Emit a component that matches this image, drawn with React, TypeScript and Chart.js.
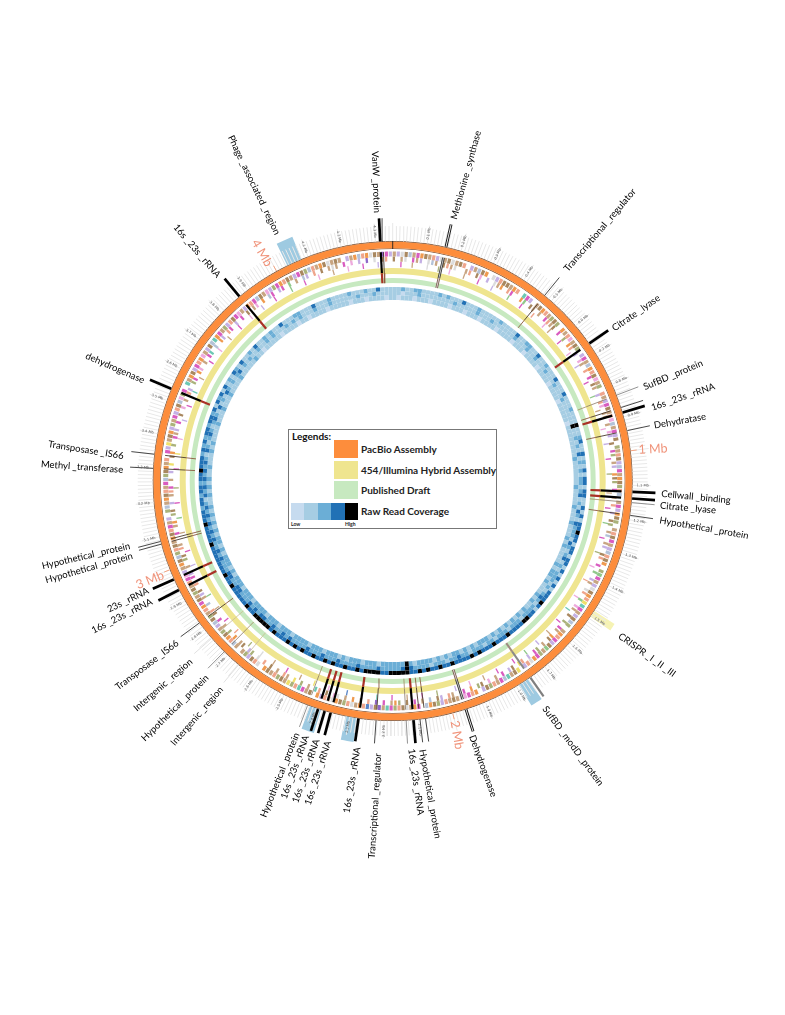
import React, { useEffect, useRef } from "react";
import { Chart, registerables } from "chart.js";

Chart.register(...registerables);

// ---------- data ----------
const genomeLengthMb = 4.35;

// genes per degree of the ring (letter = functional class, "." = no gene)
const geneOuter = [
  "tlwbgtmrbtslwtb", "wtbs.ltgbr.wlsb", "btrs.cml.tbrsto", "bo.rtsptbo.lmtg", "rsbpto.stlmbtsp", "gtmlb.otsblgmtr",
  "bosg.tmlrbo.tsb", "mtlgsbr.oemtlwb", "rsycmtlbgo.trsm", "lbetomrwsl.ybtc", "gmtsobl.rsmpwtb", "tslobrg.mrtwbso",
  "mctubldsrtwsobr", "wtslr.btmcsoytb", "ostbr.wsblot.tg", "srbotlgbotsrmbt", "obtsmpltrbgosbt", "rbsmtl.ogtrbstm",
  "gobrts.mlytbrlo", "tmlsbgpom.ctrbl", "msrptlbgcrmtols", "bmptlrsmgbtplom", "rsbtlmbogstrbwt", "bt.ltrgsrwbtuml",
].join("");
const geneMiddle = [
  "b.tw.mtl.wgt.bs", "tw..ts.bp.l.wtr", ".sm..re.bt.t.ms", "tb.m.o.rs.l.pt.", "s.m.bt.l.sp.tb.", "t.pl.b.mo.tl.rb",
  "o.m.t.s.l.bo.tg", ".tl.bs.m.e.lt.w", "s.e.pt.b.o.mt.r", "b.t.om.l.sy.bl.", "m.t.p.bo.r.mw.t", "s.lb.g.t.m.b.or",
  "t.m.u.s.b.r.t.w", "p.b.sc.t.o.y.ts", ".t.b.s.w.ol.bt.", "r.o.t.m.bs.g.tl", "b.s.ml.t.ob.st.", ".m.tr.ob.l.tsm.",
  "t.l.y.br.o.mtl.", "m.b.p.t.sl.om.r", "p.t.mc.g.rl.sm.", "l.m.b.tp.r.gm.l", "m.e.t.gl.s.b.tw", "t.m.p.l.u.w.bs.",
].join("");
const geneInner = [
  "..m..t...w..o..", "p...t...m...l..", "..e...m...s...p", ".t...m...p...l.", "...m...e...t...", ".p...l...m...o.",
  "...t...m...e...", "m...o...p...s..", "..p...c...m...t", "...l...e...m...", ".m...t...p...l.", "...o...m...t...",
  "m...c...u...d..", "..p...y...t...m", "...t...w...o...", ".s...m...t...e.", "...p...l...m...", ".t...e...m...o.",
  "...m...y...p...", ".l...m...c...t.", "...m...p...t...", "m...p...l...m..", "..e...m...p...t", "...p...m...l...",
].join("");

// raw read coverage level per 1.25 degree cell, 0 low .. 4 high
const coverageOuter = [
  "112112211112", "121113111211", "111211113112", "211311211131", "113111211141", "123113121313",
  "313311313133", "433133133131", "313133343133", "443333433343", "334343333433", "433434334444",
  "433444434334", "334343343343", "434333434444", "433433333433", "433333334333", "343332332332",
  "334333232323", "323323132313", "121321311213", "112121131112", "211131112111", "121112113111",
].join("");
const coverageMiddle = [
  "110111211111", "111211111211", "121111112111", "211211121112", "111211111141", "121213121212",
  "212312132132", "221321231212", "221212321222", "212221222122", "122212232212", "221222234322",
  "222322223222", "232223222322", "223232232233", "232322233223", "322232322323", "232323213232",
  "323232132123", "212321312132", "121231212112", "112121112121", "211121112111", "111211121111",
].join("");
const coverageInner = [
  "101110111011", "110111011101", "111011110111", "011110111101", "111011111011", "111111211111",
  "121111211121", "112121111212", "212111212112", "121212121212", "221212122121", "212222124222",
  "222122212221", "212221222122", "221222122212", "222122212221", "212221212212", "121212112121",
  "211211121211", "112111211121", "111211111211", "011111011110", "110111101111", "101110111101",
].join("");

// shaded regions outside the assembly ring
const regionStartMb = [1.484, 1.76, 2.278, 2.385, 4.035];
const regionEndMb = [1.504, 1.792, 2.312, 2.419, 4.08];
const regionKinds = ["crispr", "blue", "blue", "blue", "blue"];

// annotated features, by genome position
const featureMb = [
  4.314, 4.322, 0.155, 0.475, 0.665, 0.834, 0.872, 0.887, 0.941, 1.119, 1.138, 1.15, 1.187, 1.752, 1.96, 2.08, 2.096,
  2.115, 2.136, 2.223, 2.274, 2.356, 2.374, 2.394, 2.426, 2.658, 2.714, 2.767, 2.824, 2.936, 2.97, 3.078, 3.086, 3.299,
  3.34, 3.536, 3.87,
];
const featureKinds = [
  "thick", "thin", "double", "thin", "thick", "faint", "thin", "thick", "thin", "thick", "thick", "faint", "thin", "gray",
  "double", "thin", "thin", "thick", "faint", "thin", "thick", "thick", "thick", "thick", "faint", "pale", "faint", "pale",
  "thin", "thick", "thick", "thin", "thin", "thin", "thin", "thick", "thick",
];

const labelTexts = [
  "VanW _protein", "Methionine _synthase", "Transcriptional _regulator", "Citrate _lyase", "SufBD _protein",
  "16s _23s _rRNA", "Dehydratase", "Cellwall _binding", "Citrate _lyase", "Hypothetical _protein", "CRISPR _I _II _III",
  "SufBD _modD _protein", "Dehydrogenase", "Hypothetical _protein", "16s _23s _rRNA", "Transcriptional _regulator",
  "16s _23s _rRNA", "16s _23s _rRNA", "16s _23s _rRNA", "16s _23s _rRNA", "Hypothetical _protein", "Intergenic _region",
  "Hypothetical _protein", "Intergenic _region", "Transposase _IS66", "16s _23s _rRNA", "23s _rRNA", "Hypothetical _protein",
  "Hypothetical _protein", "Methyl _transferase", "Transposase _IS66", "dehydrogenase", "16s _23s _rRNA",
  "Phage _associated _region",
];

const megabaseLabels = ["1 Mb", "2 Mb", "3 Mb", "4 Mb"];
const megabaseMb = [1, 2, 3, 4];
const tickLabelMb = [
  0.1, 0.2, 0.3, 0.4, 0.5, 0.6, 0.7, 0.8, 0.9, 1.1, 1.2, 1.3, 1.4, 1.5, 1.6, 1.7, 1.8, 1.9, 2.1, 2.2, 2.3, 2.4, 2.5, 2.6,
  2.7, 2.8, 2.9, 3.1, 3.2, 3.3, 3.4, 3.5, 3.6, 3.7, 3.8, 3.9, 4.1, 4.2, 4.3,
];

const legendNames = ["PacBio Assembly", "454/Illumina Hybrid Assembly", "Published Draft", "Raw Read Coverage"];

// ---------- layout and styles ----------
const W = 785;
const H = 1015;
const CX = 392.7;
const CY = 481;
const R_OUT = 264;
const R_IN = 181;

const geneColors: Record<string, string> = {
  t: "#c8a582", b: "#a98860", s: "#efa58c", m: "#d95cc0", p: "#eeaadd", l: "#c4b0e4", g: "#b4c2d8", o: "#aab27a",
  e: "#90c88a", c: "#6cc8b4", y: "#efe06a", r: "#ef9a50", u: "#8f68c8", d: "#5a86c8", w: "#dcdcdc", ".": "rgba(0,0,0,0)",
};
const coverageColors = ["#c6dbef", "#a6cde3", "#6baed6", "#2171b5", "#000000"];
const regionColors: Record<string, string> = { crispr: "#f6f3b4", blue: "#9ecae1" };
const ORANGE = "#fd8d3c";
const YELLOW = "#efe58f";
const GREEN = "#c7e9c0";
const NONE = "rgba(0,0,0,0)";

// x, y, rotation in degrees for each entry of labelTexts
const labelPlacement: number[][] = [
  [376, 182, 88], [466, 175, -74.6], [600, 230, -49.6], [636, 313, -35], [673, 375, -23], [683, 397, -19], [680, 421, -10],
  [696, 497, 5.5], [688, 508, 5], [704, 528, 10], [647, 655, 35.6], [573, 746, 53.7], [483, 766, 70], [430, 794, 80],
  [416, 782, 82], [375, 806, -86.5], [352, 780, -80.5], [318, 773, -72], [306, 771, -71], [295, 767, -70], [280, 775, -68],
  [197, 716, -49], [175, 708, -44.5], [163, 685, -41], [147, 665, -37], [122, 616, -26.6], [128, 600, -26], [89, 568, -15.8],
  [86, 556, -13], [82, 467, 4], [86, 450, 9], [115, 368, 23.6], [197, 251, 49.5], [254, 185, 64.4],
];
const megabasePlacement: number[][] = [
  [653, 449, -3], [457, 735, 80], [150, 580, -22], [262, 253, 60],
];

const kindStyle: Record<string, { outer: string; width: number; innerTop: string; innerLow: string; innerWidth: number }> = {
  thick: { outer: "#000000", width: 2.7, innerTop: "#000000", innerLow: "#a93226", innerWidth: 2.2 },
  thin: { outer: "#333333", width: 0.9, innerTop: "#4a3a30", innerLow: "#8c5a40", innerWidth: 0.9 },
  faint: { outer: "#777777", width: 0.8, innerTop: "#8a7a68", innerLow: "#a08a60", innerWidth: 0.8 },
  pale: { outer: "#d8d8d8", width: 0.8, innerTop: "#c8b8a0", innerLow: "#c8c090", innerWidth: 0.8 },
  gray: { outer: "#7f7f7f", width: 2.2, innerTop: "#8a8a8a", innerLow: "#a08a80", innerWidth: 2 },
  double: { outer: "#111111", width: 2.8, innerTop: "#333333", innerLow: "#7a5a50", innerWidth: 2.6 },
};

const polar = (mb: number, r: number) => {
  const a = (mb / genomeLengthMb) * Math.PI * 2;
  return { x: CX + r * Math.sin(a), y: CY - r * Math.cos(a) };
};

const ring = (weight: number, color: string) => ({ data: [1], weight, backgroundColor: [color] });
const cellRing = (weight: number, cells: string, colorOf: (c: string) => string) => ({
  data: cells.split("").map(() => 1),
  weight,
  backgroundColor: cells.split("").map(colorOf),
});
// a gene is a bar narrower than its cell, so the ring keeps small white gaps
const geneRing = (weight: number, cells: string, fill: number) => {
  const data: number[] = [];
  const backgroundColor: string[] = [];
  cells.split("").forEach((c) => {
    data.push(fill, 1 - fill);
    backgroundColor.push(geneColors[c], NONE);
  });
  return { data, weight, backgroundColor };
};

const regionRing = () => {
  const data: number[] = [];
  const colors: string[] = [];
  let at = 0;
  regionStartMb.forEach((s, i) => {
    data.push(s - at, regionEndMb[i] - s);
    colors.push(NONE, regionColors[regionKinds[i]]);
    at = regionEndMb[i];
  });
  data.push(genomeLengthMb - at);
  colors.push(NONE);
  return { data, weight: 24, backgroundColor: colors };
};

const segment = (a: { x: number; y: number }, b: { x: number; y: number }, color: string, width: number) => ({
  data: [a, b],
  showLine: true,
  borderColor: color,
  borderWidth: width,
  pointRadius: 0,
  borderCapStyle: "butt",
});

const overlayDatasets = () => {
  const sets: any[] = [];
  // fine ruler ticks every 0.01 Mb, with gaps between them
  const ticks: any[] = [];
  for (let i = 0; i < genomeLengthMb * 100; i++) {
    const major = i % 10 === 0;
    ticks.push(polar(i / 100, 240), polar(i / 100, major ? 258 : 255), { x: null, y: null });
  }
  sets.push({ data: ticks, showLine: true, spanGaps: false, borderColor: "#e8e8e8", borderWidth: 1, pointRadius: 0 });
  featureMb.forEach((mb, i) => {
    const k = kindStyle[featureKinds[i]];
    sets.push(segment(polar(mb, 240), polar(mb, 263), k.outer, k.width));
    sets.push(segment(polar(mb, 229), polar(mb, 208), k.innerTop, k.innerWidth));
    sets.push(segment(polar(mb, 208), polar(mb, 198), k.innerLow, k.innerWidth));
    if (featureKinds[i] === "double") {
      sets.push(segment(polar(mb, 240), polar(mb, 263), "#ffffff", 0.9));
      sets.push(segment(polar(mb, 229), polar(mb, 198), "#ffffff", 0.7));
    }
  });
  megabaseMb.forEach((mb) => sets.push(segment(polar(mb, 240), polar(mb, 246), "#f4a582", 1)));
  sets.push(segment(polar(0, 232), polar(0, 240), "#222222", 0.9));
  // Chart.js paints the first dataset last, so reverse to paint in the order built
  return sets.reverse();
};

const labelPlugin = {
  id: "ringLabels",
  afterDatasetsDraw(chart: any) {
    const { ctx, scales } = chart;
    const put = (text: string, x: number, y: number, deg: number, font: string, color: string) => {
      ctx.save();
      ctx.translate(scales.x.getPixelForValue(x), scales.y.getPixelForValue(y));
      ctx.rotate((deg * Math.PI) / 180);
      ctx.font = font;
      ctx.fillStyle = color;
      ctx.textAlign = "center";
      ctx.textBaseline = "middle";
      ctx.fillText(text, 0, 0);
      ctx.restore();
    };
    tickLabelMb.forEach((mb) => {
      const p = polar(mb, 250);
      let deg = (mb / genomeLengthMb) * 360 - 90;
      if (deg > 90) deg -= 180;
      put(mb.toFixed(1) + " Mb", p.x, p.y, deg, "3.6px 'DejaVu Sans'", "#555555");
    });
    labelTexts.forEach((t, i) => {
      const [x, y, deg] = labelPlacement[i];
      put(t, x, y, deg, "9.5px Lato", "#000000");
    });
    megabaseLabels.forEach((t, i) => {
      const [x, y, deg] = megabasePlacement[i];
      put(t, x, y, deg, "12.5px Lato", "#f0937a");
    });
  },
};

export default function App() {
  const ringsRef = useRef<HTMLCanvasElement>(null);
  const linesRef = useRef<HTMLCanvasElement>(null);

  useEffect(() => {
    const covColor = (c: string) => coverageColors[+c];
    const rings = new Chart(ringsRef.current!, {
      type: "doughnut",
      data: {
        labels: [],
        datasets: [
          regionRing(),
          ring(0.7, "#7a4a28"),
          ring(6.6, ORANGE),
          ring(0.7, "#7a4a28"),
          ring(2.5, NONE),
          geneRing(5, geneOuter, 0.8),
          geneRing(5, geneMiddle, 0.6),
          geneRing(5.5, geneInner, 0.35),
          ring(1, NONE),
          ring(6, YELLOW),
          ring(4, NONE),
          ring(5, GREEN),
          ring(4, NONE),
          cellRing(4, coverageOuter, covColor),
          cellRing(4, coverageMiddle, covColor),
          cellRing(5, coverageInner, covColor),
        ] as any,
      },
      options: {
        responsive: false,
        animation: false,
        cutout: R_IN,
        hoverOffset: 0,
        borderWidth: 0,
        layout: {
          padding: { left: CX - R_OUT, top: CY - R_OUT, right: W - CX - R_OUT, bottom: H - CY - R_OUT },
        },
        plugins: { legend: { display: false }, tooltip: { enabled: false } },
      } as any,
    });
    const lines = new Chart(linesRef.current!, {
      type: "scatter",
      data: { datasets: overlayDatasets() },
      options: {
        responsive: false,
        animation: false,
        layout: { padding: 0 },
        scales: {
          x: { type: "linear", display: false, min: 0, max: W },
          y: { type: "linear", display: false, min: 0, max: H, reverse: true },
        },
        plugins: { legend: { display: false }, tooltip: { enabled: false } },
      } as any,
      plugins: [labelPlugin],
    });
    return () => {
      rings.destroy();
      lines.destroy();
    };
  }, []);

  const abs = (left: number, top: number, width: number, height: number, bg?: string): React.CSSProperties => ({
    position: "absolute", left, top, width, height, background: bg,
  });
  const legendText = (top: number, text: string) => (
    <div key={text} style={{ position: "absolute", left: 361, top, font: "bold 10px Lato", color: "#222", whiteSpace: "nowrap", lineHeight: "12px" }}>{text}</div>
  );

  return (
    <div style={{ position: "absolute", left: 0, top: 0, width: W, height: H, background: "#fff", overflow: "hidden" }}>
      <canvas ref={ringsRef} width={W} height={H} style={{ position: "absolute", left: 0, top: 0, filter: "blur(0.5px)" }} />
      <canvas ref={linesRef} width={W} height={H} style={{ position: "absolute", left: 0, top: 0, filter: "blur(0.25px)" }} />
      <div style={{ ...abs(288, 429, 207, 98, "#fff"), border: "1px solid #777" }} />
      <div style={{ position: "absolute", left: 292, top: 430, font: "bold 10px Lato", color: "#111", lineHeight: "12px" }}>Legends:</div>
      <div style={abs(334, 440, 24, 18, ORANGE)} />
      <div style={abs(334, 461, 24, 18, YELLOW)} />
      <div style={abs(334, 481, 24, 18, GREEN)} />
      {coverageColors.map((c, i) => (<div key={c} style={abs(291 + i * 13.4, 503, 13.4, 17, c)} />))}
      {legendText(443, legendNames[0])}
      {legendText(464, legendNames[1])}
      {legendText(484, legendNames[2])}
      {legendText(505, legendNames[3])}
      <div style={{ position: "absolute", left: 291, top: 521, font: "bold 5px Lato", color: "#222", lineHeight: "6px" }}>Low</div>
      <div style={{ position: "absolute", left: 345, top: 521, font: "bold 5px Lato", color: "#222", lineHeight: "6px" }}>High</div>
    </div>
  );
}
